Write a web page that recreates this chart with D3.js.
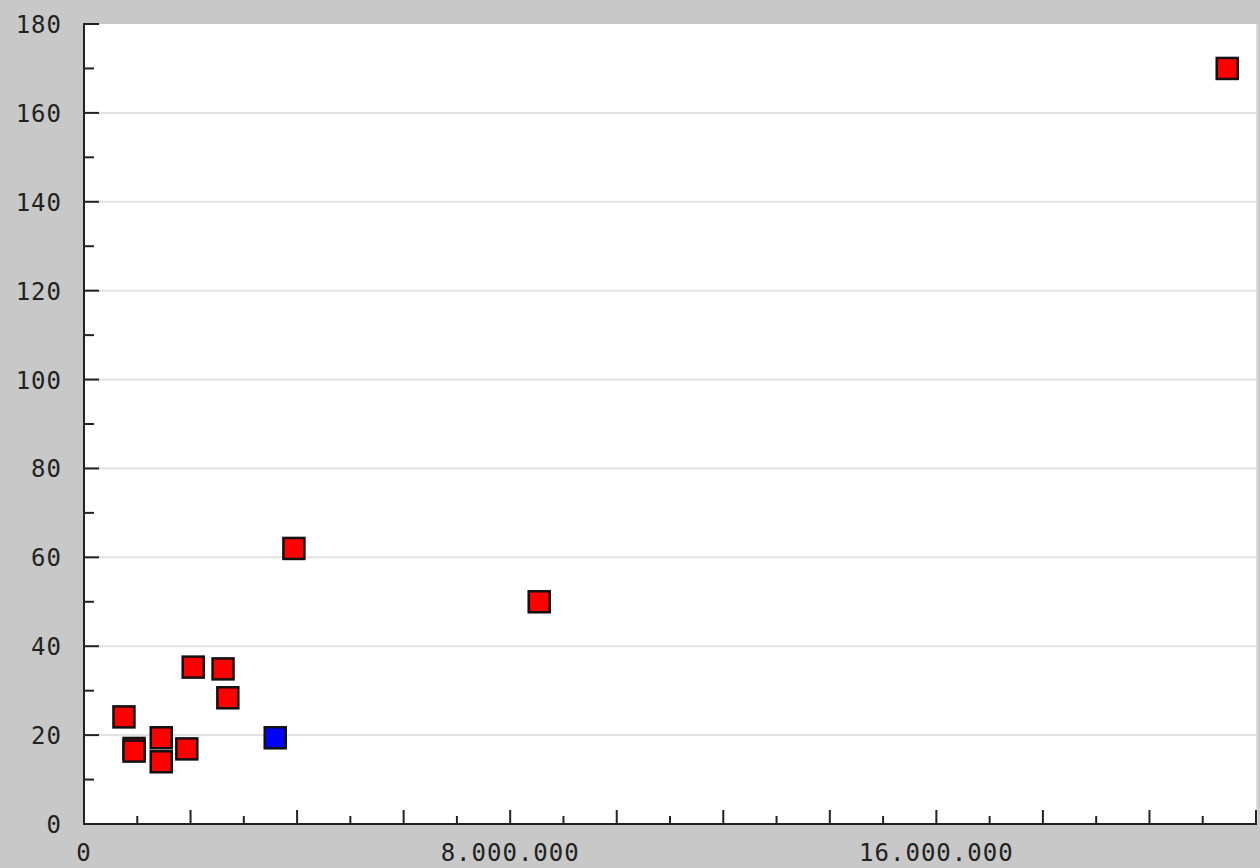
<!DOCTYPE html>
<html>
<head>
<meta charset="utf-8">
<script src="https://cdn.jsdelivr.net/npm/d3@7"></script>
<style>
  html, body { margin: 0; padding: 0; background: #c8c8c8; }
  svg { display: block; }
  .lbl { font-family: "DejaVu Sans Mono", monospace; font-size: 24px; fill: #222; letter-spacing: 1px; }
</style>
</head>
<body>
<svg id="chart" width="1260" height="868"></svg>
<script>
// values: x in units, y in units
const redX = [21460000, 8545000, 3940000, 2050000, 2610000, 2700000, 750000, 940000, 940000, 1450000, 1450000, 1930000];
const redY = [170, 50, 62, 35.3, 34.9, 28.4, 24.1, 17.0, 16.4, 19.4, 14.0, 16.9];
const blueX = [3590000];
const blueY = [19.4];

const yTicks = [0, 20, 40, 60, 80, 100, 120, 140, 160, 180];
const xLabelTicks = [0, 8000000, 16000000];

const W = 1260, H = 868;
const margin = { top: 24, right: 4, bottom: 44, left: 84 };

const svg = d3.select("#chart");

const x = d3.scaleLinear().domain([0, 22000000]).range([margin.left, W - margin.right]);
const y = d3.scaleLinear().domain([0, 180]).range([H - margin.bottom, margin.top]);

// plot area
svg.append("rect")
  .attr("x", x(0)).attr("y", y(180))
  .attr("width", x(22000000) - x(0)).attr("height", y(0) - y(180))
  .attr("fill", "#fff");

svg.append("line")
  .attr("x1", x(22000000) + 1).attr("x2", x(22000000) + 1)
  .attr("y1", y(180)).attr("y2", y(0))
  .attr("stroke", "#dcdcdc").attr("stroke-width", 2);

// horizontal grid
svg.append("g")
  .selectAll("line")
  .data(yTicks.filter(d => d > 0 && d < 180))
  .join("line")
  .attr("x1", x(0)).attr("x2", x(22000000))
  .attr("y1", d => y(d)).attr("y2", d => y(d))
  .attr("stroke", "#e2e2e2").attr("stroke-width", 2);

// y axis: inward ticks, major every 20, minor every 10
const yAxis = svg.append("g").attr("transform", `translate(${x(0)},0)`);
yAxis.append("line")
  .attr("x1", 0).attr("x2", 0).attr("y1", y(180) - 1).attr("y2", y(0) + 1)
  .attr("stroke", "#222").attr("stroke-width", 2);
yAxis.selectAll(".tk")
  .data(d3.range(10, 180, 10))
  .join("line")
  .attr("class", "tk")
  .attr("x1", 0).attr("x2", d => d % 20 === 0 ? 15 : 10)
  .attr("y1", d => y(d)).attr("y2", d => y(d))
  .attr("stroke", "#222").attr("stroke-width", 2);
yAxis.append("line")
  .attr("x1", 0).attr("x2", 15).attr("y1", y(180)).attr("y2", y(180))
  .attr("stroke", "#222").attr("stroke-width", 2);
yAxis.selectAll("text")
  .data(yTicks)
  .join("text")
  .attr("class", "lbl")
  .attr("x", -22)
  .attr("y", d => y(d) + 9)
  .attr("text-anchor", "end")
  .text(d => d);

// x axis: inward ticks every 1,000,000, long at even millions
const xAxis = svg.append("g").attr("transform", `translate(0,${y(0)})`);
xAxis.append("line")
  .attr("x1", x(0) - 1).attr("x2", x(22000000) + 1).attr("y1", 0).attr("y2", 0)
  .attr("stroke", "#222").attr("stroke-width", 2);
xAxis.selectAll(".tk")
  .data(d3.range(1000000, 22000001, 1000000))
  .join("line")
  .attr("class", "tk")
  .attr("x1", d => x(d)).attr("x2", d => x(d))
  .attr("y1", 0).attr("y2", d => (d / 1000000) % 2 === 0 ? -14 : -8)
  .attr("stroke", "#222").attr("stroke-width", 2);
const fmt = d => d3.format(",")(d).replace(/,/g, ".");
xAxis.selectAll("text")
  .data(xLabelTicks)
  .join("text")
  .attr("class", "lbl")
  .attr("x", d => x(d))
  .attr("y", 37)
  .attr("text-anchor", "middle")
  .text(fmt);

// points
const size = 21;
const pts = redX.map((d, i) => ({ x: d, y: redY[i], c: "#ff0000" }))
  .concat(blueX.map((d, i) => ({ x: d, y: blueY[i], c: "#0000ff" })));

svg.append("g")
  .selectAll("rect")
  .data(pts)
  .join("rect")
  .attr("x", d => x(d.x) - size / 2)
  .attr("y", d => y(d.y) - size / 2)
  .attr("width", size).attr("height", size)
  .attr("fill", d => d.c)
  .attr("stroke", "#111").attr("stroke-width", 2.5);
</script>
</body>
</html>
